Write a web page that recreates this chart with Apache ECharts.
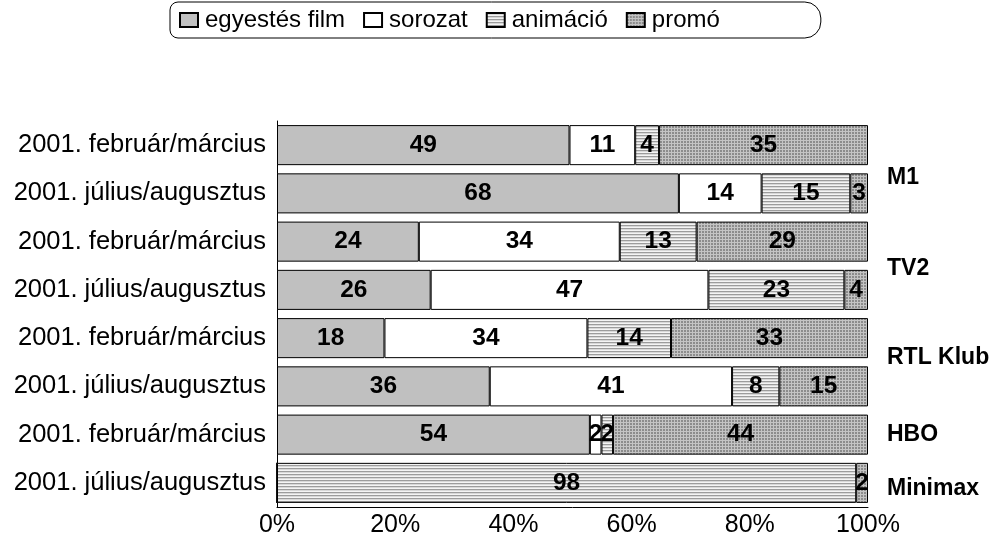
<!DOCTYPE html>
<html>
<head>
<meta charset="utf-8">
<script src="https://cdn.jsdelivr.net/npm/echarts@6/dist/echarts.min.js"></script>
<style>html,body{margin:0;padding:0;background:#fff}#c{width:996px;height:545px}</style>
</head>
<body>
<div id="c"></div>
<script>
const categories = ['2001. február/március','2001. július/augusztus','2001. február/március','2001. július/augusztus','2001. február/március','2001. július/augusztus','2001. február/március','2001. július/augusztus'];
const seriesNames = ['egyestés film','sorozat','animáció','promó'];
const film     = [49, 68, 24, 26, 18, 36, 54, 0];
const sorozat  = [11, 14, 34, 47, 34, 41, 2, 0];
const animacio = [4, 15, 13, 23, 14, 8, 2, 98];
const promo    = [35, 3, 29, 4, 33, 15, 44, 2];
const groups = ['M1','TV2','RTL Klub','HBO','Minimax'];
const groupRows = [[0,1],[2,3],[4,5],[6],[7]];
const xTicks = [0,20,40,60,80,100];

const raw = [film, sorozat, animacio, promo];
const totals = categories.map((_, i) => raw.reduce((s, a) => s + a[i], 0));
const pct = raw.map(a => a.map((v, i) => v / totals[i] * 100));

function stripes() {
  const c = document.createElement('canvas'); c.width = 4; c.height = 3;
  const g = c.getContext('2d');
  g.fillStyle = '#f4f4f4'; g.fillRect(0,0,4,3);
  g.fillStyle = '#9c9c9c'; g.fillRect(0,0,4,1);
  g.fillStyle = '#d8d8d8'; g.fillRect(0,1,4,1);
  return c;
}
function dots() {
  const c = document.createElement('canvas'); c.width = 3; c.height = 3;
  const g = c.getContext('2d');
  g.fillStyle = '#8c8c8c'; g.fillRect(0,0,3,3);
  g.fillStyle = '#c4c4c4'; g.fillRect(0,2,3,1); g.fillRect(2,0,1,3);
  return c;
}
const fills = ['#c0c0c0', '#ffffff', {image: stripes(), repeat: 'repeat'}, {image: dots(), repeat: 'repeat'}];
const FONT = 'Liberation Sans, Arial, sans-serif';

const chart = echarts.init(document.getElementById('c'), null, {renderer: 'canvas'});
const option = {
  animation: false,
  legend: {
    top: 2, left: 170,
    data: seriesNames,
    icon: 'rect',
    itemWidth: 18, itemHeight: 14, itemGap: 18,
    borderColor: '#000', borderWidth: 1, borderRadius: [8, 16, 16, 8],
    padding: [6, 101, 6, 9],
    textStyle: {fontFamily: FONT, fontSize: 24, color: '#000', padding: [0,0,0,2]}
  },
  grid: {left: 277, right: 128, top: 121, bottom: 38, containLabel: false},
  xAxis: {
    type: 'value', min: 0, max: 100, interval: 20,
    axisLine: {show: true, lineStyle: {color: '#000', width: 1}},
    axisTick: {show: false},
    splitLine: {show: false},
    axisLabel: {fontFamily: FONT, fontSize: 25, color: '#000', margin: 6,
      formatter: v => xTicks.includes(v) ? v + '%' : ''}
  },
  yAxis: {
    type: 'category', inverse: true, data: categories,
    axisLine: {show: true, lineStyle: {color: '#000', width: 1}},
    axisTick: {show: false},
    axisLabel: {fontFamily: FONT, fontSize: 25.5, color: '#000', margin: 11}
  },
  series: seriesNames.map((n, si) => ({
    name: n, type: 'bar', stack: 'all', barCategoryGap: '17%',
    data: pct[si],
    itemStyle: {color: fills[si], borderColor: '#000', borderWidth: 1},
    label: {
      show: true, position: 'inside', fontFamily: FONT, fontSize: 24.5, fontWeight: 'bold', color: '#000',
      formatter: p => raw[si][p.dataIndex] ? String(raw[si][p.dataIndex]) : ''
    }
  }))
};
chart.setOption(option);
const offs = [9, 3, -4, 1, 6];
chart.setOption({
  graphic: groups.map((g, gi) => {
    const ys = groupRows[gi].map(r => chart.convertToPixel({yAxisIndex: 0}, r));
    const y = ys.reduce((a, b) => a + b, 0) / ys.length + offs[gi];
    return {type: 'text', left: 887, top: y - 12,
      style: {text: g, fontFamily: FONT, fontSize: 23, fontWeight: 'bold', fill: '#000'}};
  })
});
</script>
</body>
</html>
